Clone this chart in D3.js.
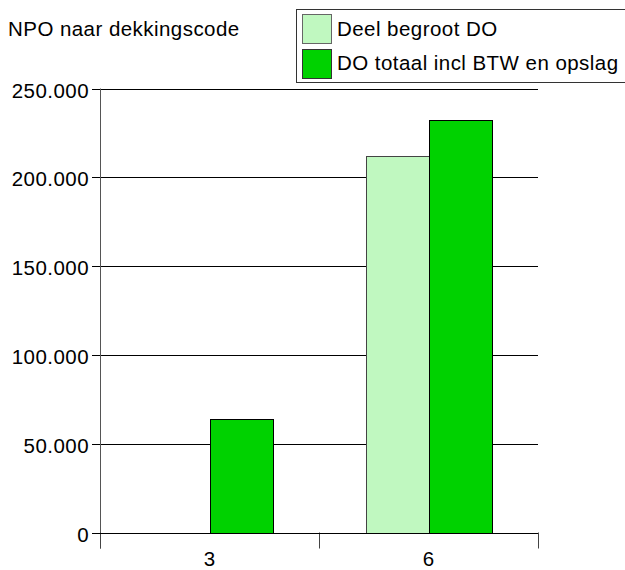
<!DOCTYPE html>
<html><head><meta charset="utf-8">
<script src="https://cdn.jsdelivr.net/npm/d3@7"></script>
<style>
html,body{margin:0;padding:0;background:#fff;}
svg{display:block;font-family:"Liberation Sans",Arial,sans-serif;}
</style></head>
<body>
<svg id="chart" width="625" height="570"></svg>
<script>
const categories = ["3", "6"];
const seriesNames = ["Deel begroot DO", "DO totaal incl BTW en opslag"];
const deelBegroot = [0, 212000];
const doTotaal = [64000, 232000];
const yTicks = [0, 50000, 100000, 150000, 200000, 250000];
const title = "NPO naar dekkingscode";
const colors = ["#c0f8c0", "#00d200"];

(function () {
const seriesValues = [deelBegroot, doTotaal];
const svg = d3.select("#chart");
const pLeft = 100, pRight = 538, pTop = 88.5, pBottom = 532.5;
const fs = 20.5, ls = 0.45;

const nl = d3.formatLocale({decimal: ",", thousands: ".", grouping: [3], currency: ["€", ""]});
const fmt = nl.format(",d");

const y = d3.scaleLinear().domain([0, 250000]).range([pBottom, pTop]);
const x = d3.scaleBand().domain(categories).range([pLeft, pRight]).padding(0);
const bw = x.bandwidth();
const xi = d3.scaleBand().domain(seriesNames).range([46.5, bw - 46.5]).padding(0);

svg.append("text").attr("x", 8).attr("y", 36).attr("font-size", fs).attr("letter-spacing", ls)
  .attr("fill", "#000").text(title);

const grid = svg.append("g");
yTicks.forEach(t => {
  const yy = Math.round(y(t)) + 0.5;
  grid.append("line").attr("x1", pLeft - 8).attr("x2", pRight).attr("y1", yy).attr("y2", yy)
    .attr("stroke", "#000").attr("stroke-width", 1);
  grid.append("text").attr("x", pLeft - 11).attr("y", yy + 8).attr("text-anchor", "end")
    .attr("font-size", fs).attr("letter-spacing", ls).attr("fill", "#000").text(fmt(t));
});

svg.append("line").attr("x1", pLeft + 0.5).attr("x2", pLeft + 0.5).attr("y1", pTop).attr("y2", pBottom + 16)
  .attr("stroke", "#555").attr("stroke-width", 1);

const xTickPos = [pLeft, pLeft + bw, pRight];
xTickPos.forEach(p => {
  svg.append("line").attr("x1", Math.round(p) + 0.5).attr("x2", Math.round(p) + 0.5)
    .attr("y1", pBottom).attr("y2", pBottom + 16).attr("stroke", "#444").attr("stroke-width", 1);
});
categories.forEach(c => {
  svg.append("text").attr("x", x(c) + bw / 2).attr("y", 566).attr("text-anchor", "middle")
    .attr("font-size", fs).attr("fill", "#000").text(c);
});

seriesNames.forEach((s, si) => {
  svg.append("g").selectAll("rect").data(categories.map((c, i) => ({c, v: seriesValues[si][i]})).filter(d => d.v > 0))
    .join("rect")
    .attr("x", d => Math.round(x(d.c) + xi(s)) + 0.5)
    .attr("y", d => Math.round(y(d.v)) + 0.5)
    .attr("width", Math.round(xi.bandwidth()))
    .attr("height", d => Math.round(y(0)) - Math.round(y(d.v)))
    .attr("fill", colors[si])
    .attr("stroke", si === 0 ? "#444" : "#000")
    .attr("stroke-width", 1);
});

svg.append("line").attr("x1", pLeft - 8).attr("x2", pRight).attr("y1", Math.round(y(0)) + 0.5).attr("y2", Math.round(y(0)) + 0.5)
  .attr("stroke", "#000").attr("stroke-width", 1.2);

const lg = svg.append("g");
lg.append("rect").attr("x", 296.5).attr("y", 9.5).attr("width", 340).attr("height", 73)
  .attr("fill", "#fff").attr("stroke", "#333").attr("stroke-width", 1);
seriesNames.forEach((s, i) => {
  const yy = 14 + i * 35;
  lg.append("rect").attr("x", 302.5).attr("y", yy + 0.5).attr("width", 29).attr("height", 29)
    .attr("fill", colors[i]).attr("stroke", i === 0 ? "#666" : "#333").attr("stroke-width", 1);
  lg.append("text").attr("x", 337).attr("y", 36 + i * 33.5).attr("font-size", fs).attr("letter-spacing", ls)
    .attr("fill", "#000").text(s);
});
})();
</script>
</body></html>
